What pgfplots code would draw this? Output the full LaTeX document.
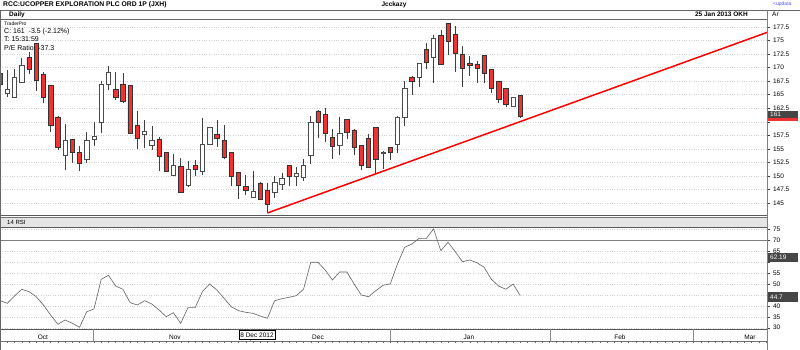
\documentclass[border=0pt]{standalone}
\usepackage{fontspec}
\setmainfont{Liberation Sans}
\usepackage{pgfplots}
\usepackage{pgfplotstable}
\pgfplotsset{compat=1.18}

\pgfplotstableread{
k O H L C
1 169.0 169.4 166.6 167.0
2 165.3 169.6 164.6 166.0
3 164.6 169.7 164.5 168.2
4 167.3 171.7 167.2 170.5
5 171.9 172.9 168.9 169.7
6 174.5 174.6 165.7 167.7
7 168.8 169.1 163.4 164.6
8 166.7 166.8 158.2 159.4
9 160.9 161.0 154.8 155.3
10 153.9 159.6 151.0 156.6
11 156.8 156.9 152.3 154.4
12 154.4 155.5 150.9 152.4
13 153.1 158.2 152.4 156.5
14 156.8 159.9 155.5 157.4
15 160.0 167.6 157.9 167.0
16 167.0 170.3 165.9 169.1
17 166.0 169.1 164.0 164.6
18 167.0 169.0 163.4 163.8
19 166.7 166.8 157.8 157.9
20 159.4 162.0 154.9 157.0
21 157.7 160.3 155.2 158.3
22 155.6 159.2 154.7 156.5
23 156.8 157.1 150.9 153.7
24 154.4 154.5 150.8 150.9
25 150.2 154.0 150.1 152.0
26 151.7 153.3 146.9 147.0
27 148.2 152.8 148.0 151.2
28 151.9 152.9 149.9 151.2
29 150.8 160.7 150.2 155.9
30 155.9 159.0 155.8 159.0
31 157.7 160.3 155.4 157.0
32 156.5 159.4 153.1 153.4
33 154.4 154.5 148.2 150.0
34 150.7 150.8 145.7 148.2
35 148.0 150.2 146.5 147.4
36 146.0 150.9 145.9 147.2
37 148.7 148.9 145.5 145.7
38 147.4 148.7 143.2 144.8
39 147.0 149.9 146.0 148.9
40 148.5 150.5 147.4 149.5
41 151.9 152.0 148.2 150.0
42 149.9 151.7 148.2 150.5
43 149.7 153.1 149.1 152.0
44 153.9 161.1 152.2 160.0
45 162.0 162.1 157.0 160.0
46 161.4 162.5 156.2 157.9
47 157.1 158.6 153.1 155.5
48 155.7 160.9 153.9 157.9
49 160.5 160.6 156.8 158.0
50 158.5 158.6 153.9 155.3
51 155.6 155.7 151.1 151.9
52 157.0 157.7 151.5 151.6
53 158.9 159.0 150.5 153.1
54 154.1 154.6 151.3 154.3
55 155.3 155.4 152.9 154.4
56 155.8 161.0 154.2 160.9
57 160.9 167.5 159.2 166.2
58 168.3 168.4 164.9 167.5
59 168.2 170.9 166.4 170.8
60 173.4 174.5 169.7 171.0
61 171.9 176.0 167.2 175.4
62 176.0 176.9 170.6 170.7
63 178.2 178.3 172.3 174.9
64 176.1 177.7 169.2 172.6
65 172.5 173.9 166.4 169.9
66 170.8 172.1 168.5 170.5
67 170.7 171.3 167.1 169.9
68 172.3 172.4 167.1 169.0
69 169.7 169.8 165.3 166.2
70 167.5 167.6 163.5 164.2
71 166.2 166.3 162.7 163.2
72 162.9 164.6 162.7 164.5
73 164.9 165.0 160.7 161.0
}\candles

\pgfplotstableread{
k R
1 42.35
2 41.16
3 44.5
4 47.57
5 46.47
6 44.18
7 40.39
8 35.81
9 31.56
10 33.53
11 32.02
12 30.19
13 37.32
14 38.56
15 52.14
16 53.97
17 49.07
18 47.57
19 41.44
20 40.39
21 42.35
22 40.84
23 38.1
24 35.04
25 36.87
26 32.02
27 39.15
28 39.15
29 46.47
30 49.99
31 47.25
32 43.45
33 39.61
34 37.78
35 37.05
36 36.59
37 35.36
38 34.31
39 42.35
40 43.27
41 43.91
42 44.64
43 47.57
44 59.91
45 59.91
46 56.39
47 51.82
48 55.48
49 55.48
50 49.99
51 44.96
52 44.18
53 46.93
54 49.39
55 49.99
56 59.13
57 66.77
58 68.28
59 70.88
60 70.88
61 75.14
62 65.21
63 69.06
64 64.76
65 60.19
66 60.96
67 59.73
68 57.62
69 52.14
70 49.07
71 47.57
72 49.99
73 44.7
}\rsi

\definecolor{candlered}{RGB}{240,50,50}
\definecolor{markbox}{RGB}{70,70,70}

\begin{document}
\begin{tikzpicture}[x=1pt,y=1pt]
\path[use as bounding box] (0,0) rectangle (800,350);

% ---------- price panel ----------
\begin{axis}[
  at={(0pt,135pt)}, anchor=south west,
  width=767pt, height=196pt, scale only axis,
  xmin=0.989, xmax=107.15, ymin=142.78, ymax=178.98,
  axis line style={black!65, line width=0.5pt},
  xtick=\empty,
  ytick={145,147.5,150,152.5,155,157.5,162.5,165,167.5,170,172.5,175,177.5},
  extra y ticks={160}, extra y tick labels={},
  minor y tick num=1,
  ytick pos=right,
  tick align=outside,
  major tick length=2.5pt, minor tick length=1.5pt,
  tick style={black!75, line width=0.4pt},
  yticklabel style={font=\fontsize{6.5}{7}\selectfont, /pgf/number format/fixed, /pgf/number format/precision=1, /pgf/number format/assume math mode=true},
  ymajorgrids, grid style={black!18, dotted},
]
\addplot[draw=none, mark=none, error bars/.cd, y dir=plus, y explicit, error mark=none,
  error bar style={draw=black!75, line width=0.6pt}]
  table[x=k, y=L, y error plus expr={\thisrow{H}-\thisrow{L}}] {\candles};
\addplot[red, line width=1.5pt] coordinates {(38,143.15) (107.15,176.5)};
\end{axis}

\begin{axis}[
  at={(0pt,135pt)}, anchor=south west,
  width=767pt, height=196pt, scale only axis,
  xmin=0.989, xmax=107.15, ymin=142.78, ymax=178.98,
  hide axis, ybar stacked, bar width=0.6,
]
\addplot[draw=none, fill=none] table[x=k, y expr={min(\thisrow{O},\thisrow{C})}] {\candles};
\addplot[fill=candlered, draw=black!80, line width=0.5pt] table[x=k, y expr={max(\thisrow{O}-\thisrow{C},0)}] {\candles};
\addplot[fill=white, draw=black!70, line width=0.5pt] table[x=k, y expr={max(\thisrow{C}-\thisrow{O},0)}] {\candles};
\end{axis}

% ---------- RSI panel ----------
\fill[black!10] (0,123) rectangle (767,133);
\draw[black!55, line width=0.5pt] (0,133) -- (767,133);
\node[anchor=base west, inner sep=0, font=\fontsize{6}{7}\selectfont] at (7,125.5) {14 RSI};

\begin{axis}[
  at={(0pt,21pt)}, anchor=south west,
  width=767pt, height=102pt, scale only axis,
  xmin=0.989, xmax=107.15, ymin=29.41, ymax=76.05,
  axis line style={black!65, line width=0.5pt},
  ytick={30,35,40,50,55,65,70,75},
  extra y ticks={45,60}, extra y tick labels={},
  ytick pos=right,
  minor y tick num=1,
  tick align=outside, major tick length=2.5pt, minor tick length=1.5pt,
  tick style={black!75, line width=0.4pt},
  yticklabel style={font=\fontsize{6.5}{7}\selectfont, /pgf/number format/assume math mode=true},
  xtick={6.94,25.2,45.0,65.9,86.8,104.8},
  xticklabels={Oct,Nov,Dec,Jan,Feb,Mar},
  x tick style={draw=none},
  xticklabel style={font=\fontsize{6.5}{7}\selectfont, anchor=base, yshift=-8.5pt},
  ymajorgrids, grid style={black!18, dotted},
]
\addplot[black!50, line width=0.5pt] coordinates {(0.989,70) (107.15,70)};
\addplot[black!62, line width=0.6pt] table[x=k, y=R] {\rsi};
\end{axis}

% ---------- frame, header, footer ----------
\draw[black!60, line width=0.5pt] (0,340) -- (800,340);
\draw[black!60, line width=0.5pt] (0,331) -- (767,331);
\draw[black!50, line width=0.5pt] (767,0) -- (767,340);
\draw[black!60, line width=0.5pt] (0,0) -- (0,340);
\node[anchor=base west, inner sep=0, font=\fontsize{6.8}{7}\selectfont\bfseries] at (3,343.3) {RCC:UCOPPER EXPLORATION PLC ORD 1P (JXH)};
\node[anchor=base, inner sep=0, font=\fontsize{6.5}{7}\selectfont\bfseries] at (394,343.3) {Jcckazy};
\node[anchor=base west, inner sep=0, font=\fontsize{5}{6}\selectfont, text=blue!70] at (773,344.5) {\textless updata};
\node[anchor=base west, inner sep=0, font=\fontsize{6.5}{7}\selectfont\bfseries] at (9,333) {Daily};
\node[anchor=base east, inner sep=0, font=\fontsize{6.5}{7}\selectfont\bfseries] at (748,333) {25 Jan 2013 OKH};
\node[anchor=base west, inner sep=0, font=\fontsize{6.5}{7}\selectfont] at (772,333) {Ar};

\node[anchor=base west, inner sep=0, font=\fontsize{5}{6}\selectfont] at (4,324.5) {TraderPro};
\node[anchor=base west, inner sep=0, font=\fontsize{7}{8}\selectfont] at (4,316.5) {C: 161 \ -3.5 (-2.12\%)};
\node[anchor=base west, inner sep=0, font=\fontsize{7}{8}\selectfont] at (4,308) {T: 15:31:59};
\node[anchor=base west, inner sep=0, font=\fontsize{7}{8}\selectfont] at (4,299.5) {P/E Ratio: -37.3};

% right-axis value boxes
\fill[candlered] (768,229) rectangle (798,237);
\fill[markbox] (768,231.7) rectangle (798,238.7);
\node[anchor=base west, inner sep=0, text=white, font=\fontsize{6.5}{7}\selectfont] at (770,233) {161};
\fill[markbox] (768,88) rectangle (798,97);
\node[anchor=base west, inner sep=0, text=white, font=\fontsize{6.5}{7}\selectfont] at (770,90) {62.19};
\fill[markbox] (768,48) rectangle (798,58);
\node[anchor=base west, inner sep=0, text=white, font=\fontsize{6.5}{7}\selectfont] at (770,50.5) {44.7};

% date strip
\draw[black!55, line width=0.5pt] (0,9) -- (767,9);
\foreach \xx in {93,250,390,550,693} \draw[black!45, line width=0.5pt] (\xx,9) -- (\xx,21);
\foreach \i in {0,...,106} \draw[black!60, line width=0.4pt] ({0.08+\i*7.225},9) -- ({0.08+\i*7.225},6.5);
\node[draw=black, line width=0.6pt, fill=white, inner xsep=1.5pt, inner ysep=1pt, minimum height=9pt, font=\fontsize{6.5}{7}\selectfont] at (257,15) {8 Dec 2012};
\end{tikzpicture}
\end{document}
